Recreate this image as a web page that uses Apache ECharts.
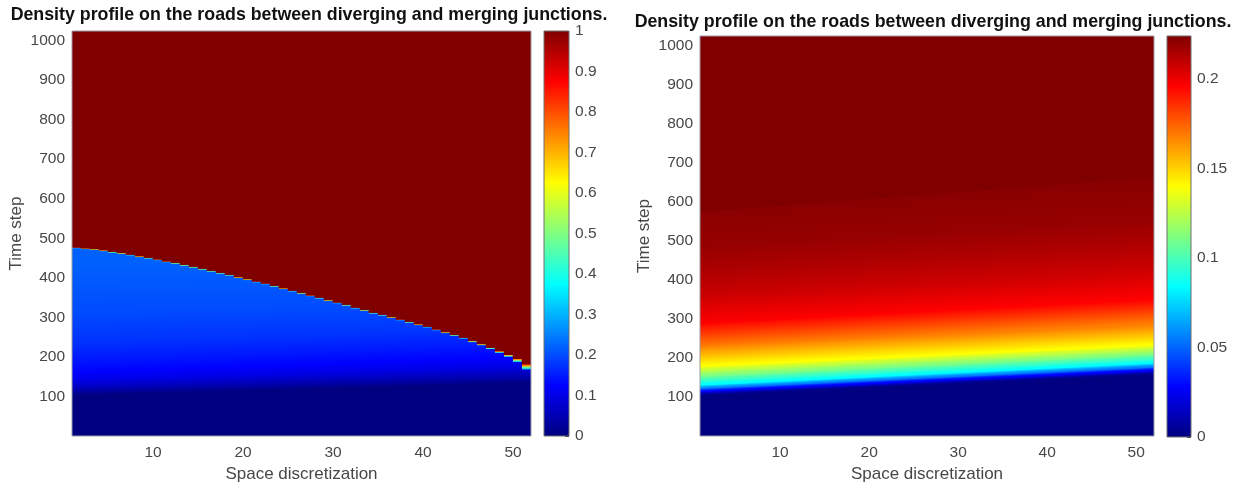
<!DOCTYPE html>
<html>
<head>
<meta charset="utf-8">
<script src="https://cdn.jsdelivr.net/npm/echarts@6/dist/echarts.min.js"></script>
<style>
html,body{margin:0;padding:0;background:#fff;}
#chart{width:1236px;height:488px;}
</style>
</head>
<body>
<div id="chart"></div>
<script>
// ---------------- data ----------------
const titleText = 'Density profile on the roads between diverging and merging junctions.';
const xAxisName = 'Space discretization';
const yAxisName = 'Time step';
const spaceStart = 1;
const spaceEnd = 52;
const timeMax = 1024;
const xTickValues = [10, 20, 30, 40, 50];
const yTickValues = [100, 200, 300, 400, 500, 600, 700, 800, 900, 1000];
const leftBarTicks = [0, 0.1, 0.2, 0.3, 0.4, 0.5, 0.6, 0.7, 0.8, 0.9, 1];
const rightBarTicks = [0, 0.05, 0.1, 0.15, 0.2];
const leftColorMax = 1;
const rightColorMax = 0.224;

// Left panel: time step at which the jam front (density 1) reaches each space cell
const leftFrontTime = [477,475,473,470,466,463,459,455,451,447,442,438,433,428,423,418,413,408,402,397,
  391,386,380,374,368,362,356,350,344,338,332,325,319,312,307,301,295,289,283,277,
  270,263,256,249,241,233,224,215,206,196,182];
// Left panel: time span of the smeared front in each cell
const leftFrontSpan = [3,3,3,3,3,3,3,3,3,3,3,3,3,3,3,3,3,3,3,3,
  3,3,3,3,3,3,3,3,3,3,3,3,3,3,3,3,3,3,3,3,
  3,3,3,3,4,4,4,5,6,9,14];
const leftJamDensity = 1;
// Left panel: free-flow density contour levels and their time at x=1 and x=52
const leftLevels     = [0.02, 0.06, 0.10, 0.125, 0.15, 0.175, 0.20, 0.22];
const leftLevelStart = [108, 122, 140, 160, 195, 240, 320, 440];
const leftLevelEnd   = [140, 158, 178, 200, 232, 270, 335, 440];
const leftBottomValue = 0;
const leftTopValue = 0.22;

// Right panel: density contour levels and their time at x=1 and x=52
const rightLevels     = [0.004, 0.028, 0.056, 0.084, 0.112, 0.140, 0.168, 0.196, 0.207, 0.214, 0.219, 0.222];
const rightLevelStart = [106, 115, 123, 132, 155, 180, 230, 288, 355, 420, 490, 576];
const rightLevelEnd   = [160, 169, 178, 188, 210, 234, 285, 352, 425, 497, 556, 665];
const rightBottomValue = 0;
const rightTopValue = 0.224;

// ---------------- helpers ----------------
function jet(f) {
  f = Math.max(0, Math.min(1, f));
  const c = v => Math.round(255 * Math.max(0, Math.min(1, v)));
  return 'rgb(' + c(Math.min(4 * f - 1.5, -4 * f + 4.5)) + ',' +
    c(Math.min(4 * f - 0.5, -4 * f + 3.5)) + ',' +
    c(Math.min(4 * f + 0.5, -4 * f + 2.5)) + ')';
}
const FONT = 'Liberation Sans, Arial, sans-serif';
const TEXT_GRAY = '#474747';
const TICK_SIZE = 15.5;
const NAME_SIZE = 17;
const TITLE_SIZE = 17.8;

function bandData(levels) {
  const d = [];
  for (let b = 0; b <= levels.length; b++) d.push([b]);
  return d;
}
function bandRenderer(levels, tStart, tEnd, bottomValue, topValue, vmax) {
  const lineAt = (i, x) => {
    if (i < 0) return 0;
    if (i >= levels.length) return timeMax;
    return tStart[i] + (tEnd[i] - tStart[i]) * (x - spaceStart) / (spaceEnd - spaceStart);
  };
  return function (params, api) {
    const b = api.value(0);
    const lo = b - 1, hi = b;
    const p1 = api.coord([spaceStart, lineAt(lo, spaceStart)]);
    const p2 = api.coord([spaceEnd, lineAt(lo, spaceEnd)]);
    const p3 = api.coord([spaceEnd, lineAt(hi, spaceEnd)]);
    const p4 = api.coord([spaceStart, lineAt(hi, spaceStart)]);
    let vLo, vHi;
    if (b === 0) { vLo = vHi = bottomValue; }
    else if (b === levels.length) { vLo = vHi = topValue; }
    else { vLo = levels[lo]; vHi = levels[hi]; }
    let dx = (p2[0] - p1[0]) + (p3[0] - p4[0]);
    let dy = (p2[1] - p1[1]) + (p3[1] - p4[1]);
    const L = Math.hypot(dx, dy); dx /= L; dy /= L;
    const nx = dy, ny = -dx;
    const m0 = [(p1[0] + p2[0]) / 2, (p1[1] + p2[1]) / 2];
    const m1 = [(p3[0] + p4[0]) / 2, (p3[1] + p4[1]) / 2];
    let h = (m1[0] - m0[0]) * nx + (m1[1] - m0[1]) * ny;
    if (h < 0.5) h = 0.5;
    const grad = new echarts.graphic.LinearGradient(m0[0], m0[1], m0[0] + nx * h, m0[1] + ny * h, [
      { offset: 0, color: jet(vLo / vmax) },
      { offset: 1, color: jet(vHi / vmax) }
    ], true);
    const ov = b === 0 ? 0 : 1;
    return {
      type: 'polygon',
      shape: { points: [[p1[0] - 1, p1[1] + ov], [p2[0] + 1, p2[1] + ov], [p3[0] + 1, p3[1]], [p4[0] - 1, p4[1]]] },
      style: { fill: grad }
    };
  };
}
function colorbarRenderer(vmax) {
  return function (params, api) {
    const a = api.coord([0, 0]);
    const b = api.coord([1, vmax]);
    const stops = [];
    for (let k = 0; k <= 8; k++) stops.push({ offset: k / 8, color: jet(k / 8) });
    return {
      type: 'rect',
      shape: { x: a[0], y: b[1], width: b[0] - a[0], height: a[1] - b[1] },
      style: { fill: new echarts.graphic.LinearGradient(0, a[1], 0, b[1], stops, true) }
    };
  };
}

// ---------------- layout ----------------
const grids = [
  { left: 72, top: 31, width: 459, height: 405 },      // left map
  { left: 544, top: 31, width: 25, height: 405 },      // left colorbar
  { left: 700, top: 36, width: 454, height: 401 },     // right map
  { left: 1167, top: 36, width: 24, height: 401 }      // right colorbar
].map(g => Object.assign({ show: true, borderColor: '#9a9aa6', borderWidth: 1, backgroundColor: 'transparent', z: 5 }, g));
grids[1].borderColor = '#6f6f6f';
grids[3].borderColor = '#6f6f6f';

const numFmt = v => String(v);

function mapXAxis(gi) {
  return {
    gridIndex: gi, type: 'value', min: spaceStart, max: spaceEnd,
    name: xAxisName, nameLocation: 'middle', nameGap: 30,
    nameTextStyle: { fontSize: NAME_SIZE, color: TEXT_GRAY, fontFamily: FONT },
    axisLine: { show: false, onZero: false }, splitLine: { show: false },
    axisTick: { show: false, customValues: xTickValues },
    axisLabel: { customValues: xTickValues, formatter: numFmt, fontSize: TICK_SIZE, color: TEXT_GRAY, fontFamily: FONT, margin: 9 }
  };
}
function mapYAxis(gi) {
  return {
    gridIndex: gi, type: 'value', min: 0, max: timeMax,
    name: yAxisName, nameLocation: 'middle', nameGap: 47, nameRotate: 90,
    nameTextStyle: { fontSize: NAME_SIZE, color: TEXT_GRAY, fontFamily: FONT },
    axisLine: { show: false, onZero: false }, splitLine: { show: false },
    axisTick: { show: false, customValues: yTickValues },
    axisLabel: { customValues: yTickValues, formatter: numFmt, fontSize: TICK_SIZE, color: TEXT_GRAY, fontFamily: FONT, margin: 7 }
  };
}
function barXAxis(gi) {
  return { gridIndex: gi, type: 'value', min: 0, max: 1, show: false, axisLine: { onZero: false } };
}
function barYAxis(gi, vmax, ticks) {
  return {
    gridIndex: gi, type: 'value', min: 0, max: vmax, position: 'right',
    axisLine: { show: false, onZero: false }, splitLine: { show: false },
    axisTick: { show: true, inside: true, length: 4, customValues: ticks, lineStyle: { color: '#333' } },
    axisLabel: { customValues: ticks, formatter: numFmt, fontSize: TICK_SIZE, color: TEXT_GRAY, fontFamily: FONT, margin: 6 }
  };
}

const option = {
  animation: false,
  backgroundColor: '#ffffff',
  title: [
    { text: titleText, left: 309, top: 6, textAlign: 'center', padding: 0,
      textStyle: { fontSize: TITLE_SIZE, fontWeight: 'bold', color: '#111', fontFamily: FONT } },
    { text: titleText, left: 933, top: 13, textAlign: 'center', padding: 0,
      textStyle: { fontSize: TITLE_SIZE, fontWeight: 'bold', color: '#111', fontFamily: FONT } }
  ],
  grid: grids,
  xAxis: [mapXAxis(0), barXAxis(1), mapXAxis(2), barXAxis(3)],
  yAxis: [mapYAxis(0), barYAxis(1, leftColorMax, leftBarTicks), mapYAxis(2), barYAxis(3, rightColorMax, rightBarTicks)],
  series: [
    {
      name: 'left free flow', type: 'custom', xAxisIndex: 0, yAxisIndex: 0, clip: true, silent: true,
      data: bandData(leftLevels),
      renderItem: bandRenderer(leftLevels, leftLevelStart, leftLevelEnd, leftBottomValue, leftTopValue, leftColorMax)
    },
    {
      name: 'left jam', type: 'custom', xAxisIndex: 0, yAxisIndex: 0, clip: true, silent: true,
      data: leftFrontTime.map((t, i) => [spaceStart + i, t, leftFrontSpan[i]]),
      renderItem: function (params, api) {
        const c = api.value(0), t = api.value(1), w = api.value(2);
        const a = api.coord([c, t]);
        const b = api.coord([c + 1, timeMax]);
        const s = api.coord([c, t - w]);
        const red = jet(leftJamDensity / leftColorMax);
        const grad = new echarts.graphic.LinearGradient(0, s[1], 0, a[1], [
          { offset: 0, color: jet(0.28) },
          { offset: 0.35, color: jet(0.45) },
          { offset: 0.65, color: jet(0.7) },
          { offset: 1, color: jet(0.9) }
        ], true);
        return {
          type: 'group',
          children: [
            { type: 'rect', shape: { x: a[0], y: a[1], width: b[0] - a[0], height: s[1] - a[1] },
              style: { fill: grad } },
            { type: 'rect', shape: { x: a[0], y: b[1], width: b[0] - a[0], height: a[1] - b[1] },
              style: { fill: red, stroke: red, lineWidth: 0.6 } }
          ]
        };
      }
    },
    {
      name: 'left colorbar', type: 'custom', xAxisIndex: 1, yAxisIndex: 1, silent: true,
      data: [[0]], renderItem: colorbarRenderer(leftColorMax)
    },
    {
      name: 'right density', type: 'custom', xAxisIndex: 2, yAxisIndex: 2, clip: true, silent: true,
      data: bandData(rightLevels),
      renderItem: bandRenderer(rightLevels, rightLevelStart, rightLevelEnd, rightBottomValue, rightTopValue, rightColorMax)
    },
    {
      name: 'right colorbar', type: 'custom', xAxisIndex: 3, yAxisIndex: 3, silent: true,
      data: [[0]], renderItem: colorbarRenderer(rightColorMax)
    }
  ]
};

const chart = echarts.init(document.getElementById('chart'), null, { renderer: 'canvas' });
chart.setOption(option);
</script>
</body>
</html>
